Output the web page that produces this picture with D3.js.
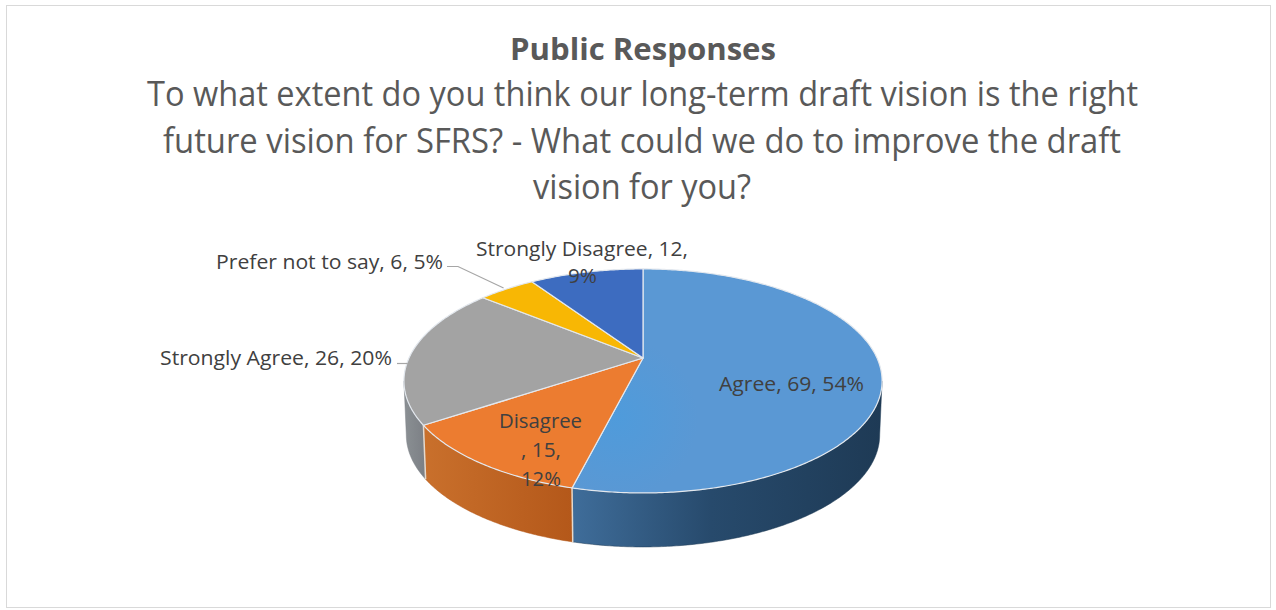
<!DOCTYPE html>
<html>
<head>
<meta charset="utf-8">
<script src="https://cdnjs.cloudflare.com/ajax/libs/d3/7.8.5/d3.min.js"></script>
<style>
  html, body { margin: 0; padding: 0; background: #fff; }
  svg { display: block; }
  text { font-family: "Open Sans", "Lato", sans-serif; }
</style>
</head>
<body>
<svg id="chart" width="1276" height="610"></svg>
<script>
// Survey responses
const categories = ["Agree", "Disagree", "Strongly Agree", "Prefer not to say", "Strongly Disagree"];
const counts = [69, 15, 26, 6, 12];
const percents = [54, 12, 20, 5, 9];
const topColors = ["#5a98d4", "#ec7c30", "#a3a3a3", "#f8b704", "#3d6cc0"];
const sideColorsLight = ["#3f6d9a", "#c9702c", "#8b9094", "#c79400", "#2f5597"];
const sideColorsDark = ["#1e3a55", "#b4581a", "#7d8186", "#a67c00", "#203864"];

const titleLines = [
  { text: "Public Responses", weight: 700, x0: 510, x1: 776, y: 60, size: 31 },
  { text: "To what extent do you think our long-term draft vision is the right", weight: 400, x0: 147, x1: 1138, y: 106, size: 35 },
  { text: "future vision for SFRS? - What could we do to improve the draft", weight: 400, x0: 163, x1: 1121, y: 153, size: 35 },
  { text: "vision for you?", weight: 400, x0: 533, x1: 751, y: 199, size: 35 }
];

// Wrapped label rows for each slice, placed by hand the way the chart layout left them
const labelRows = [
  [{ i: 0, part: "all", x0: 719, x1: 864, y: 391 }],
  [
    { i: 1, part: "name", x0: 499, x1: 582, y: 428 },
    { i: 1, part: "count", x0: 521, x1: 561, y: 457 },
    { i: 1, part: "pct", x0: 521, x1: 561, y: 486 }
  ],
  [{ i: 2, part: "all", x0: 160, x1: 392, y: 365 }],
  [{ i: 3, part: "all", x0: 216, x1: 443, y: 269 }],
  [
    { i: 4, part: "head", x0: 476, x1: 688, y: 256 },
    { i: 4, part: "pct", x0: 568, x1: 597, y: 283 }
  ]
];

function rowText(r) {
  const n = categories[r.i], c = counts[r.i], p = percents[r.i];
  if (r.part === "all") return `${n}, ${c}, ${p}%`;
  if (r.part === "name") return n;
  if (r.part === "count") return `, ${c},`;
  if (r.part === "head") return `${n}, ${c},`;
  return `${p}%`;
}

// Tilted disc: a perspective mapping of the unit circle onto the page
const apex = { x: 643, y: 358 };
const tilt = { rx: 234, ry: 107.3, k: 0.205 };
const depth = 54;

function project(theta, r = 1, shrink = 1, drop = 0) {
  const u = Math.sin(theta) * r, v = -Math.cos(theta) * r;
  const w = 1 - tilt.k * v;
  return [
    apex.x + shrink * tilt.rx * u / w,
    apex.y + drop + tilt.ry * v / w
  ];
}

const slices = d3.pie().sort(null).value(d => d)(counts);
const line = d3.line();
const svg = d3.select("#chart");
const defs = svg.append("defs");

function arcAngles(a0, a1) {
  const n = Math.max(2, Math.ceil((a1 - a0) / 0.01));
  return d3.range(n + 1).map(i => a0 + (a1 - a0) * i / n);
}

// Chart frame
svg.append("rect")
  .attr("x", 6.5).attr("y", 5.5).attr("width", 1264).attr("height", 602)
  .attr("fill", "#fff").attr("stroke", "#d9d9d9").attr("stroke-width", 1);

// Title block
svg.append("g").selectAll("text").data(titleLines).join("text")
  .attr("x", d => d.x0).attr("y", d => d.y)
  .attr("textLength", d => d.x1 - d.x0)
  .attr("lengthAdjust", "spacingAndGlyphs")
  .attr("font-size", d => d.size)
  .attr("font-weight", d => d.weight)
  .attr("fill", "#595959")
  .text(d => d.text);

// Only the front part of the rim faces the viewer
const rimStart = Math.acos(-tilt.k);
const rimEnd = 2 * Math.PI - rimStart;

const rim = slices.map((s, i) => ({
  i,
  a0: Math.max(s.startAngle, rimStart),
  a1: Math.min(s.endAngle, rimEnd)
})).filter(d => d.a1 > d.a0);

rim.forEach(d => {
  const xs = arcAngles(d.a0, d.a1).map(a => project(a)[0]);
  defs.append("linearGradient")
    .attr("id", `rim-${d.i}`)
    .attr("gradientUnits", "userSpaceOnUse")
    .attr("x1", d3.min(xs)).attr("x2", d3.max(xs))
    .attr("y1", 0).attr("y2", 0)
    .selectAll("stop")
    .data(d.i === 0
      ? [[0, sideColorsLight[0]], [0.45, "#274a6c"], [1, sideColorsDark[0]]]
      : [[0, sideColorsLight[d.i]], [1, sideColorsDark[d.i]]])
    .join("stop")
    .attr("offset", s => s[0])
    .attr("stop-color", s => s[1]);
});

// Rim faces
svg.append("g").selectAll("path").data(rim).join("path")
  .attr("d", d => {
    const angles = arcAngles(d.a0, d.a1);
    const upper = angles.map(a => project(a));
    const lower = angles.slice().reverse().map(a => project(a, 1, 0.99, depth));
    return line(upper.concat(lower)) + "Z";
  })
  .attr("fill", d => `url(#rim-${d.i})`)
  .attr("stroke", d => d3.color(sideColorsDark[d.i]))
  .attr("stroke-width", 0.5);

// Light seams where rim segments meet
svg.append("g").selectAll("line")
  .data(slices.filter(s => s.endAngle > rimStart && s.endAngle < rimEnd))
  .join("line")
  .attr("x1", s => project(s.endAngle)[0])
  .attr("y1", s => project(s.endAngle)[1])
  .attr("x2", s => project(s.endAngle, 1, 0.99, depth)[0])
  .attr("y2", s => project(s.endAngle, 1, 0.99, depth)[1])
  .attr("stroke", "#e6d9cc").attr("stroke-width", 1.5);

// Brighter sheen around the centre of the largest slice
const sheen = defs.append("radialGradient")
  .attr("id", "sheen")
  .attr("gradientUnits", "userSpaceOnUse")
  .attr("cx", apex.x - 25).attr("cy", apex.y + 60).attr("r", 80);
sheen.append("stop").attr("offset", 0).attr("stop-color", "#4f9bdb");
sheen.append("stop").attr("offset", 1).attr("stop-color", topColors[0]);

// Top faces of the slices
svg.append("g").selectAll("path").data(slices).join("path")
  .attr("d", s => {
    const pts = arcAngles(s.startAngle, s.endAngle).map(a => project(a));
    return line([[apex.x, apex.y], ...pts]) + "Z";
  })
  .attr("fill", (s, i) => i === 0 ? "url(#sheen)" : topColors[i])
  .attr("stroke", "#e3e8ee")
  .attr("stroke-width", 1.2)
  .attr("stroke-linejoin", "round");

// Leader lines for the two labels sitting outside the disc
const leaderEnd = i => {
  const s = slices[i];
  return project((s.startAngle + s.endAngle) / 2);
};
const preferEnd = leaderEnd(3);
const agreeEnd = project(slices[2].startAngle + (slices[2].endAngle - slices[2].startAngle) * 0.44);
const leaders = [
  [[447, 266.5], [458, 266.5], [preferEnd[0] - 3, preferEnd[1] - 1]],
  [[397, 363.5], [agreeEnd[0], 363.5]]
];
svg.append("g").selectAll("path").data(leaders).join("path")
  .attr("d", d => line(d))
  .attr("fill", "none").attr("stroke", "#a6a6a6").attr("stroke-width", 1.2);

// Data labels
svg.append("g").selectAll("text").data(labelRows.flat()).join("text")
  .attr("x", d => d.x0).attr("y", d => d.y)
  .attr("textLength", d => d.x1 - d.x0)
  .attr("lengthAdjust", "spacingAndGlyphs")
  .attr("font-size", 20)
  .attr("fill", "#404040")
  .text(rowText);
</script>
</body>
</html>
